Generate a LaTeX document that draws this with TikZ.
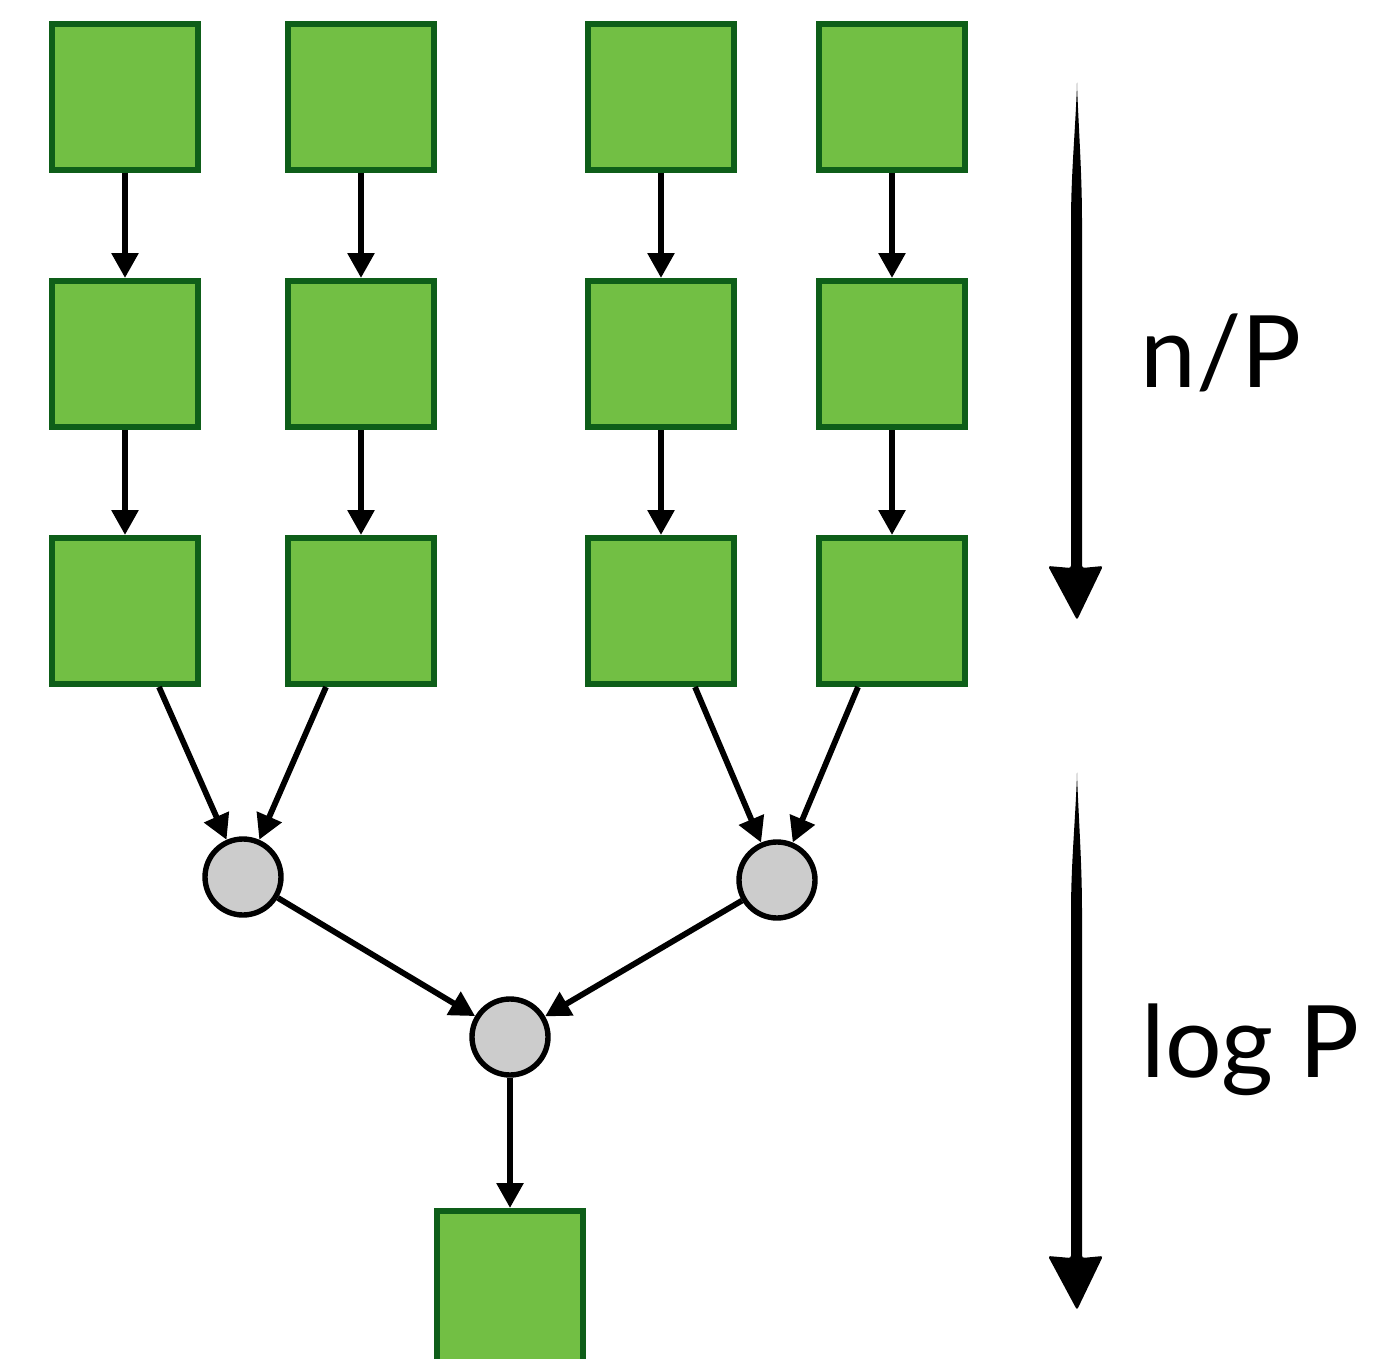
\documentclass[tikz,border=0pt]{standalone}
\usepackage{fontspec}
\setmainfont{Lato}
\usetikzlibrary{arrows.meta}
\definecolor{boxfill}{RGB}{114,191,68}
\definecolor{boxline}{RGB}{14,94,25}
\definecolor{dotfill}{RGB}{204,204,204}

\begin{document}
\begin{tikzpicture}[x=0.5pt,y=-0.5pt,
  block/.style={draw=boxline, fill=boxfill, line width=3pt,
    minimum size=73pt, inner sep=0pt},
  merge/.style={circle, draw=black, fill=dotfill, line width=2.7pt,
    minimum size=38pt, inner sep=0pt},
  flow/.style={-{Triangle[width=13pt,length=12.5pt]}, line width=2.9pt},
  costtext/.style={font=\fontsize{50}{60}\selectfont, anchor=base west,
    inner sep=0pt},
  pics/brushdown/.style={code={
    \fill[rounded corners=1.2pt]
      (0,0) .. controls (2,50) and (5,90) .. (5,140) -- (5,483)
      -- (26,481) -- (0,535) -- (-29,481) -- (-6,483) -- (-6,140)
      .. controls (-6,90) and (-2,50) .. (0,0) -- cycle;
  }}
]
\useasboundingbox (0,0) rectangle (1377,1359);

% grid of local work blocks: columns c, rows r
\foreach \c/\x in {1/125,2/361,3/661,4/892}{
  \foreach \r/\y in {1/97,2/354,3/611}{
    \node[block] (s\r\c) at (\x,\y) {};
  }
}

% reduction tree
\node[merge] (m1) at (243,877) {};
\node[merge] (m2) at (777,880) {};
\node[merge] (m3) at (510,1037) {};
% result block, running past the lower edge
\node[block, minimum height=80pt, anchor=north] (out) at (510,1208) {};

% sequential steps down each column
\foreach \c in {1,2,3,4}{
  \draw[flow] (s1\c.south) -- (s2\c.north);
  \draw[flow] (s2\c.south) -- (s3\c.north);
}

% combining partial results
\draw[flow] ([xshift=17pt]s31.south) -- (m1);
\draw[flow] ([xshift=-17.5pt]s32.south) -- (m1);
\draw[flow] ([xshift=17pt]s33.south) -- (m2);
\draw[flow] ([xshift=-17pt]s34.south) -- (m2);
\draw[flow] (m1) -- (m3);
\draw[flow] (m2) -- (m3);
\draw[flow] (m3) -- (out);

% cost arrows and labels
\pic at (1077,85) {brushdown};
\pic at (1077,775) {brushdown};
\node[costtext] (np) at (1140,387) {n/P};
\node[costtext] (lp) at (1141,1077) {log P};
\end{tikzpicture}
\end{document}
